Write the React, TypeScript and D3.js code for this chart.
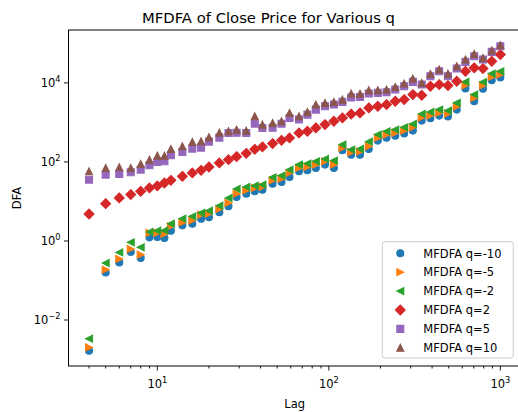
import React from 'react';
import * as d3 from 'd3';

// Window sizes (lags) used for the fluctuation function
const lags = [4, 5, 6, 7, 8, 9, 10, 11, 12, 14, 16, 18, 20, 23, 26, 29, 33, 37, 41, 47, 53, 59, 67, 75, 84, 95, 107, 120, 135, 152, 171, 193, 217, 244, 275, 309, 348, 391, 440, 495, 557, 626, 704, 792, 891, 1000];

// Fluctuation function F_q(lag) for each moment order q
const fqMinus10 = [0.00167, 0.16, 0.287, 0.527, 0.371, 1.233, 1.263, 1.191, 1.823, 2.483, 2.742, 3.669, 4.004, 5.36, 7.52, 13.0, 15.76, 18.02, 19.89, 28.2, 31.2, 41.7, 57.8, 61.3, 70.5, 85.5, 70.5, 196.7, 153, 152, 213, 346, 412, 463, 521, 620, 1111, 1270, 1486, 1403, 2109, 7175, 3420, 7100, 11640, 13620];
const fqMinus5 = [0.00202, 0.1877, 0.35, 0.627, 0.45, 1.594, 1.6, 1.504, 2.343, 2.957, 3.323, 4.633, 4.911, 6.458, 9.16, 15.76, 19.1, 21.98, 23.28, 34.2, 37.8, 52.7, 70.5, 74.7, 85.5, 103.5, 85.5, 226, 175, 185, 248, 405, 491, 542, 620, 751, 1324, 1486, 1740, 1671, 2512, 8690, 4170, 8600, 14190, 16220];
const fqMinus2 = [0.00336, 0.277, 0.514, 0.922, 0.689, 1.69, 1.82, 1.85, 2.74, 3.67, 4.2, 5.12, 5.85, 7.83, 12.3, 20.7, 23.3, 25.1, 26.6, 40.7, 45.0, 63.8, 85.4, 90.6, 104, 119, 108, 274, 205, 213, 326, 491, 595, 657, 751, 916, 1641, 1844, 2109, 1990, 3119, 10600, 5058, 10500, 17200, 19670];
const fqPlus2 = [4.83, 8.8, 12.3, 14.9, 18.0, 22.0, 24.7, 29.4, 34.2, 43.2, 52.7, 61.3, 74.7, 94.4, 114, 136, 165, 208, 240, 291, 352, 405, 542, 596, 726, 880, 1066, 1300, 1620, 1740, 2328, 2558, 2825, 3423, 3776, 5055, 4853, 8200, 9057, 8550, 10970, 19680, 23990, 23020, 35230, 52000];
const fqPlus5 = [35.6, 47.7, 49.7, 54.5, 63.8, 82.0, 100, 103.5, 146.9, 179, 217, 230, 326, 412, 542, 545, 540, 932, 726, 730, 930, 1300, 1178, 1575, 2109, 2558, 2825, 3304, 4246, 4372, 5360, 5585, 5785, 6766, 8200, 10600, 9060, 14690, 19670, 14700, 23020, 34000, 47130, 38900, 60950, 84500];
const fqPlus10 = [57.8, 70.5, 73.0, 70, 89.0, 114.4, 144.3, 144, 213, 248, 321, 332, 424, 552, 595, 657, 620, 1427, 880, 971, 1066, 1740, 1430, 1844, 2825, 3119, 3304, 3776, 5360, 5350, 6500, 6510, 6766, 7925, 9600, 12850, 10000, 16900, 21720, 16950, 26300, 38900, 54200, 42950, 65760, 89500];

const seriesValues = [fqMinus10, fqMinus5, fqMinus2, fqPlus2, fqPlus5, fqPlus10];
const seriesLabels = ['MFDFA q=-10', 'MFDFA q=-5', 'MFDFA q=-2', 'MFDFA q=2', 'MFDFA q=5', 'MFDFA q=10'];
const seriesColors = ['#1f77b4', '#ff7f0e', '#2ca02c', '#d62728', '#9467bd', '#8c564b'];
const seriesMarkers = ['circle', 'triangleRight', 'triangleLeft', 'diamond', 'square', 'triangleUp'];

const xMajorTicks = [10, 100, 1000];
const yMajorTicks = [1e-2, 1, 1e2, 1e4];

const W = 518;
const H = 412;
const plot = { left: 68.5, right: 520.9, top: 30, bottom: 366 };
const FONT = '"DejaVu Sans", sans-serif';
const MS = 6.9;

function markerPath(kind: string, s: number): string {
  const h = s / 2;
  switch (kind) {
    case 'circle':
      return `M${h},0A${h},${h} 0 1,1 ${-h},0A${h},${h} 0 1,1 ${h},0Z`;
    case 'square':
      return `M${-h},${-h}H${h}V${h}H${-h}Z`;
    case 'diamond': {
      const d = h * Math.SQRT2;
      return `M0,${-d}L${d},0L0,${d}L${-d},0Z`;
    }
    case 'triangleUp':
      return `M0,${-h}L${h},${h}L${-h},${h}Z`;
    case 'triangleRight':
      return `M${h},0L${-h},${h}L${-h},${-h}Z`;
    case 'triangleLeft':
      return `M${-h},0L${h},${-h}L${h},${h}Z`;
    default:
      return '';
  }
}

// log-space autoscale with 5% padding on each side
function logPadded(vals: number[]): [number, number] {
  const [a, b] = d3.extent(vals) as [number, number];
  const la = Math.log10(a);
  const lb = Math.log10(b);
  const pad = (lb - la) * 0.05;
  return [Math.pow(10, la - pad), Math.pow(10, lb + pad)];
}

function Pow10({ x, y, exp, anchor }: { x: number; y: number; exp: number; anchor: 'end' | 'middle' }) {
  const expStr = exp < 0 ? `\u2212${Math.abs(exp)}` : `${exp}`;
  return (
    <text x={x} y={y} textAnchor={anchor} fontFamily={FONT} fontSize={11.5} fill="#000">
      10
      <tspan dy={-5} fontSize={8.2}>{expStr}</tspan>
    </text>
  );
}

export default function App() {
  const xScale = d3.scaleLog().domain(logPadded(lags)).range([plot.left, plot.right]);
  const yScale = d3.scaleLog().domain(logPadded(seriesValues.flat())).range([plot.bottom, plot.top]);

  const [xd0, xd1] = xScale.domain();
  const xMinor: number[] = [];
  for (let dec = 1; dec <= 1000; dec *= 10) {
    for (let m = 2; m <= 9; m++) {
      const v = m * dec;
      if (v >= xd0 && v <= xd1) xMinor.push(v);
    }
  }

  const legend = { x: 382.3, y: 241.7, w: 131, h: 116.3, row: 18.9 };

  return (
    <svg width={W} height={H} style={{ position: 'absolute', left: 0, top: 0, background: '#fff' }}>
      <defs>
        <clipPath id="plotArea">
          <rect x={plot.left} y={plot.top} width={plot.right - plot.left} height={plot.bottom - plot.top} />
        </clipPath>
      </defs>
      <rect x={0} y={0} width={W} height={H} fill="#fff" />

      {/* series markers */}
      <g clipPath="url(#plotArea)">
        {seriesValues.map((vals, si) => (
          <g key={si} fill={seriesColors[si]} stroke={seriesColors[si]} strokeWidth={1.15}>
            {vals.map((v, i) => (
              <path
                key={i}
                transform={`translate(${xScale(lags[i])},${yScale(v)})`}
                d={markerPath(seriesMarkers[si], MS)}
              />
            ))}
          </g>
        ))}
      </g>

      {/* frame */}
      <rect
        x={plot.left}
        y={plot.top}
        width={plot.right - plot.left}
        height={plot.bottom - plot.top}
        fill="none"
        stroke="#000"
        strokeWidth={1}
      />

      {/* axis ticks */}
      <g stroke="#000" strokeWidth={0.9}>
        {xMajorTicks.map((t) => (
          <line key={t} x1={xScale(t)} x2={xScale(t)} y1={plot.bottom} y2={plot.bottom + 4.5} />
        ))}
        {xMinor.map((t) => (
          <line key={t} x1={xScale(t)} x2={xScale(t)} y1={plot.bottom} y2={plot.bottom + 2.5} />
        ))}
        {yMajorTicks.map((t) => (
          <line key={t} x1={plot.left - 4.5} x2={plot.left} y1={yScale(t)} y2={yScale(t)} />
        ))}
      </g>
      {xMajorTicks.map((t) => (
        <Pow10 key={t} x={xScale(t)} y={plot.bottom + 22} exp={Math.round(Math.log10(t))} anchor="middle" />
      ))}
      {yMajorTicks.map((t) => (
        <Pow10 key={t} x={plot.left - 8} y={yScale(t) + 4} exp={Math.round(Math.log10(t))} anchor="end" />
      ))}

      {/* axis labels and title */}
      <text x={(plot.left + plot.right) / 2} y={408} textAnchor="middle" fontFamily={FONT} fontSize={11.5}>
        Lag
      </text>
      <text
        transform={`translate(21,${(plot.top + plot.bottom) / 2}) rotate(-90)`}
        textAnchor="middle"
        fontFamily={FONT}
        fontSize={11.5}
      >
        DFA
      </text>
      <text x={268.5} y={23} textAnchor="middle" fontFamily={FONT} fontSize={14.8}>
        MFDFA of Close Price for Various q
      </text>

      {/* legend */}
      <rect
        x={legend.x}
        y={legend.y}
        width={legend.w}
        height={legend.h}
        rx={2.5}
        fill="#fff"
        fillOpacity={0.8}
        stroke="#cccccc"
        strokeWidth={1}
      />
      {seriesLabels.map((lab, i) => {
        const cy = legend.y + 11.6 + i * legend.row;
        return (
          <g key={lab}>
            <path
              transform={`translate(${legend.x + 18},${cy})`}
              d={markerPath(seriesMarkers[i], MS)}
              fill={seriesColors[i]}
              stroke={seriesColors[i]}
              strokeWidth={1.15}
            />
            <text x={legend.x + 41} y={cy + 4.2} fontFamily={FONT} fontSize={11.5}>
              {lab}
            </text>
          </g>
        );
      })}
    </svg>
  );
}
